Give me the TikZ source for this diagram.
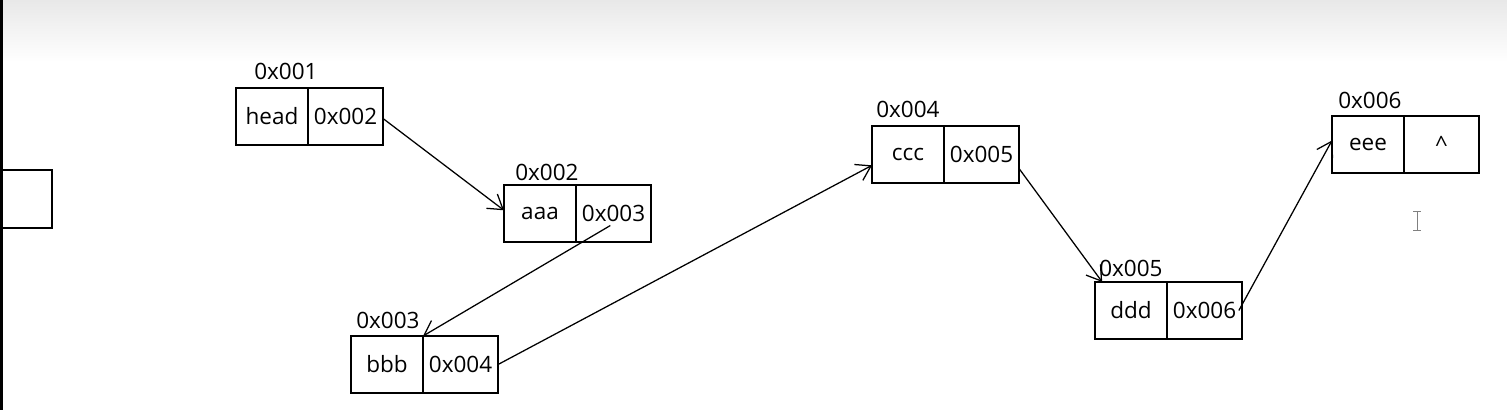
\documentclass[tikz,border=0pt]{standalone}
\usepackage{fontspec}
\setmainfont{Open Sans}
\usetikzlibrary{arrows.meta, positioning, calc}

\begin{document}
\begin{tikzpicture}[
    x=0.025cm, y=-0.025cm,
    cell/.style={draw, line width=1pt, minimum height=1.425cm, inner sep=0pt, outer sep=0pt, font=\fontsize{16}{18}\selectfont},
    val/.style={cell, minimum width=1.8cm, anchor=north west},
    ptr/.style={cell, minimum width=1.875cm},
    addr/.style={anchor=base west, inner sep=0pt, font=\fontsize{16}{18}\selectfont},
    arrow/.style={-{Straight Barb[length=3.5mm, width=4.5mm]}, line width=0.9pt}
]
    \useasboundingbox (0,0) rectangle (1507,410);
    % screen background
    \shade[top color=black!9, bottom color=white] (0,0) rectangle (1507,62);
    \fill (0,0) rectangle (2.5,410);
    \draw[line width=1pt] (0,170) -- (52,170) -- (52,228) -- (0,228);

    % list nodes
    \node[val] (headv) at (236,88) {head};
    \node[ptr, right=0pt of headv] (headp) {0x002};
    \node[val] (aaav) at (504,185) {aaa};
    \node[ptr, right=0pt of aaav] (aaap) {0x003};
    \node[val] (bbbv) at (351,336) {bbb};
    \node[ptr, right=0pt of bbbv] (bbbp) {0x004};
    \node[val] (cccv) at (872,126) {ccc};
    \node[ptr, right=0pt of cccv] (cccp) {0x005};
    \node[val] (dddv) at (1095,282) {ddd};
    \node[ptr, right=0pt of dddv] (dddp) {0x006};
    \node[val] (eeev) at (1332,116) {eee};
    \node[ptr, right=0pt of eeev] (eeep) {\textasciicircum};

    % addresses
    \node[addr] (addr1) at (254,79) {0x001};
    \node[addr] (addr2) at (515,180) {0x002};
    \node[addr] (addr3) at (356,328) {0x003};
    \node[addr] (addr4) at (876,117) {0x004};
    \node[addr] (addr5) at (1099,276) {0x005};
    \node[addr] (addr6) at (1338,108) {0x006};

    % links
    \draw[arrow] ([yshift=-0.05cm]headp.east) -- ([yshift=0.08cm]aaav.west);
    \draw[arrow] ([xshift=-0.08cm, yshift=-0.3cm]aaap.center) -- (bbbv.north east);
    \draw[arrow] (bbbp.east) -- ([yshift=-0.27cm]cccv.west);
    \draw[arrow] ([yshift=-0.35cm]cccp.east) -- ([xshift=0.18cm]dddv.north west);
    \draw[arrow] ([xshift=-0.08cm]dddp.east) -- ([yshift=0.1cm]eeev.west);

    % text cursor
    \draw[gray, line width=0.6pt] (1417,211) -- (1417,230) (1413,211) -- (1421,211) (1413,230) -- (1421,230);
\end{tikzpicture}
\end{document}
